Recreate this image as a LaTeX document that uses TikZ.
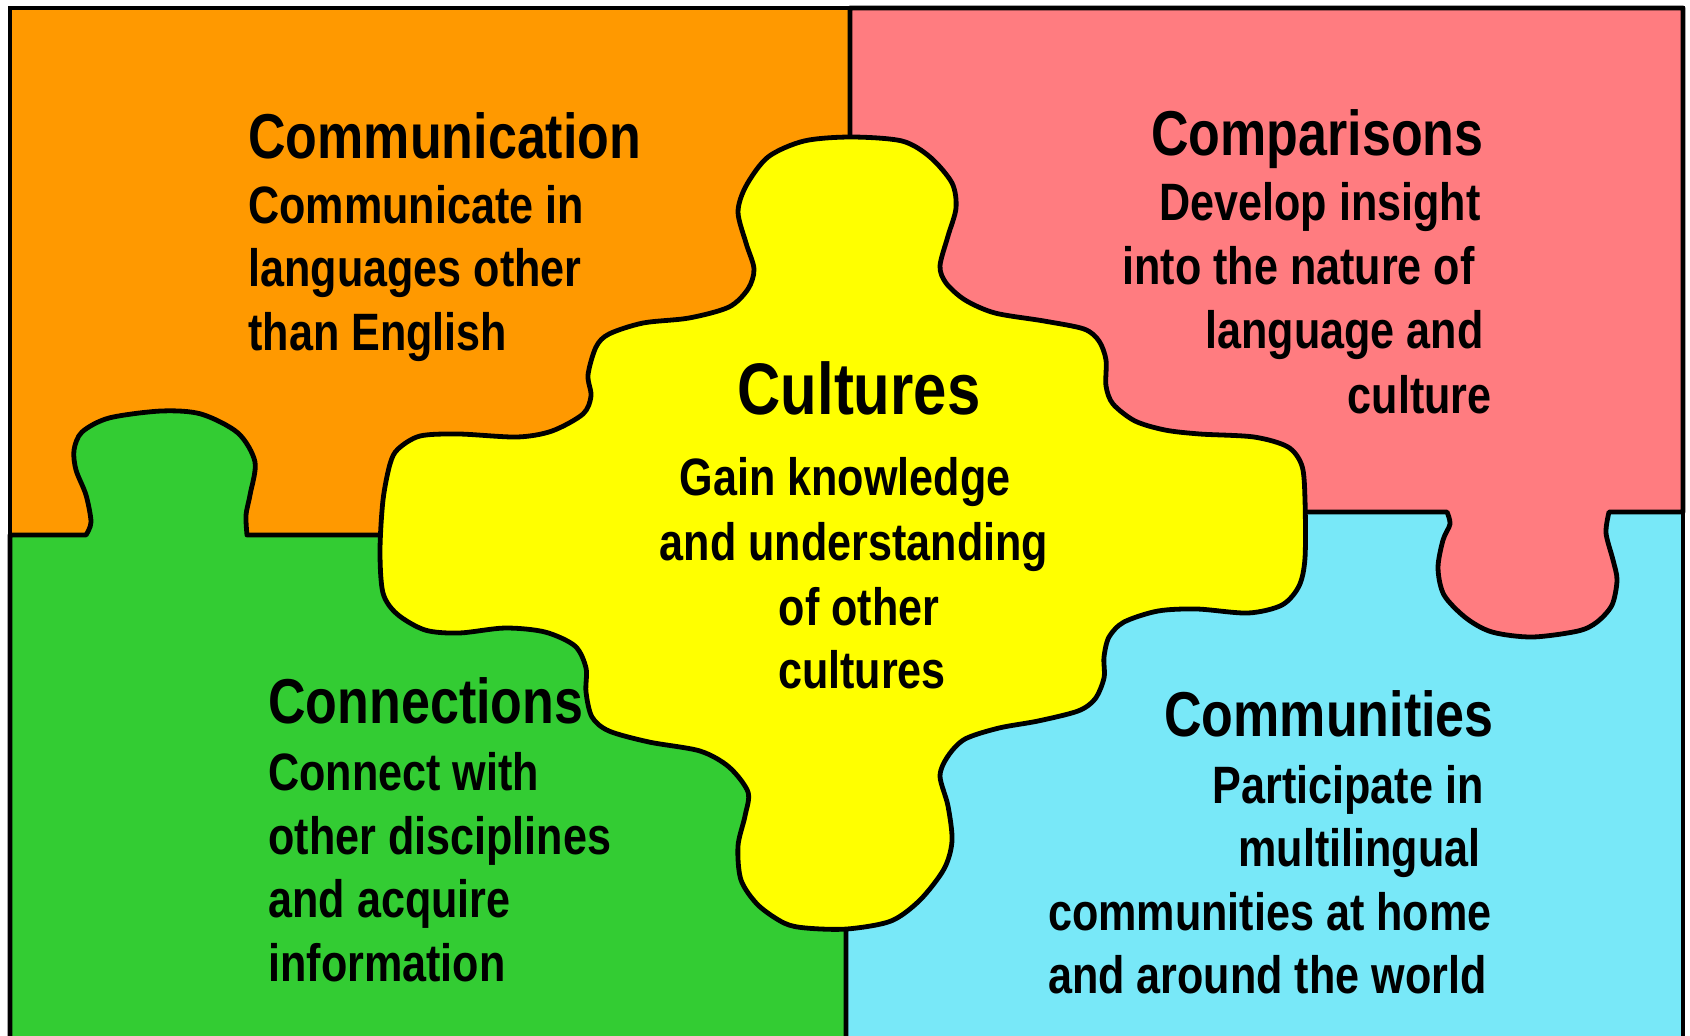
\documentclass[tikz,border=0pt]{standalone}
\usepackage{fontspec}
\setmainfont{Liberation Sans}[FakeStretch=0.82]

\definecolor{commorange}{RGB}{255,153,0}
\definecolor{comppink}{RGB}{255,124,128}
\definecolor{conngreen}{RGB}{51,204,51}
\definecolor{cmtycyan}{RGB}{120,232,248}
\definecolor{cultyellow}{RGB}{255,255,0}

\tikzset{
  piece/.style={draw=black, line width=2.4pt, line join=round},
  title/.style={inner sep=0pt, font=\bfseries\fontsize{31.7}{38}\selectfont},
  bigtitle/.style={inner sep=0pt, font=\bfseries\fontsize{36.5}{44}\selectfont},
  body/.style={inner sep=0pt, font=\bfseries\fontsize{26.3}{32}\selectfont}
}

\begin{document}
\begin{tikzpicture}[x=0.5pt, y=-0.5pt]
            \useasboundingbox (0,0) rectangle (1690,1035);
            \clip (0,0) rectangle (1690,1035);

            \draw[piece, fill=commorange] (10,8) rectangle (850,535); %Communication
            \draw[piece, fill=cmtycyan] (846,512) rectangle (1683,1050); %Communities

            %Connections with its knob
            \draw[piece, fill=conngreen] (10,535) -- plot[smooth] coordinates {(86,535) (91,522) (86,495) (76,470) (74,450) (82,432) (109,418) (161,411) (201,414) (238,433) (255,462) (250,495) (246,515) (247,535)} -- (846,535) -- (846,1050) -- (10,1050) -- cycle;

            %Comparisons with its knob
            \draw[piece, fill=comppink] (850,8) -- (1683,8) -- (1683,512) -- plot[smooth] coordinates {(1609,512) (1606,533) (1613,560) (1617,580) (1612,605) (1597,622) (1578,631) (1532,637) (1492,632) (1466,618) (1444,595) (1438,568) (1443,540) (1450,524) (1447,512)} -- (850,512) -- cycle;

            %Cultures
            \draw[piece, fill=cultyellow] plot[smooth cycle] coordinates {(851,137) (902,141) (930,157) (952,183) (956,208) (948,236) (940,266) (946,283) (965,300) (995,313) (1044,321) (1084,329) (1099,341) (1106,360) (1106,386) (1113,404) (1135,421) (1165,430) (1200,434) (1254,437) (1288,447) (1302,466) (1305,500) (1305,558) (1299,586) (1282,605) (1248,613) (1197,609) (1158,611) (1124,622) (1109,637) (1104,657) (1104,678) (1095,699) (1078,711) (1038,721) (999,728) (965,739) (948,756) (940,776) (948,806) (952,841) (944,869) (920,900) (891,921) (847,929) (806,928) (784,923) (758,905) (741,880) (738,846) (745,816) (748,792) (729,767) (700,751) (649,742) (609,731) (592,717) (586,692) (586,668) (575,646) (545,632) (505,628) (459,633) (425,630) (397,614) (383,593) (380,551) (383,500) (390,464) (398,449) (420,436) (459,434) (517,437) (552,431) (583,414) (591,396) (588,375) (596,347) (609,334) (643,323) (689,318) (729,307) (748,289) (754,269) (746,243) (738,212) (746,186) (768,157) (804,141)};

            \draw[line width=2.4pt] (10,8) rectangle (1683,1050); %Frame

            \node[title, anchor=base west] (commtitle) at (248,158) {Communication};
            \node[body, anchor=base west] (comm1) at (248,223) {Communicate in};
            \node[body, anchor=base west] (comm2) at (248,286) {languages other};
            \node[body, anchor=base west] (comm3) at (248,350) {than English};

            \node[title, anchor=base east] (comptitle) at (1484,155) {Comparisons};
            \node[body, anchor=base east] (comp1) at (1481,220) {Develop insight};
            \node[body, anchor=base east] (comp2) at (1475,284) {into the nature of};
            \node[body, anchor=base east] (comp3) at (1484,348) {language and};
            \node[body, anchor=base east] (comp4) at (1492,413) {culture};

            \node[bigtitle, anchor=base] (culttitle) at (859,414) {Cultures};
            \node[body, anchor=base] (cult1) at (845,495) {Gain knowledge};
            \node[body, anchor=base] (cult2) at (854,560) {and understanding};
            \node[body, anchor=base] (cult3) at (859,625) {of other};
            \node[body, anchor=base] (cult4) at (862,688) {cultures};

            \node[title, anchor=base west] (conntitle) at (268,723) {Connections};
            \node[body, anchor=base west] (conn1) at (268,790) {Connect with};
            \node[body, anchor=base west] (conn2) at (268,854) {other disciplines};
            \node[body, anchor=base west] (conn3) at (268,917) {and acquire};
            \node[body, anchor=base west] (conn4) at (268,981) {information};

            \node[title, anchor=base east] (cmtytitle) at (1494,736) {Communities};
            \node[body, anchor=base east] (cmty1) at (1484,803) {Participate in};
            \node[body, anchor=base east] (cmty2) at (1481,866) {multilingual};
            \node[body, anchor=base east] (cmty3) at (1492,930) {communities at home};
            \node[body, anchor=base east] (cmty4) at (1487,993) {and around the world};
        \end{tikzpicture}
\end{document}
